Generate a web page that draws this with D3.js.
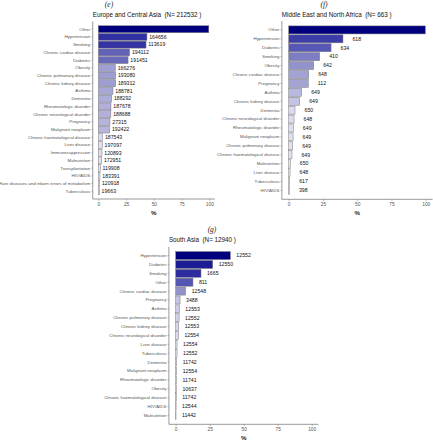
<!DOCTYPE html>
<html><head><meta charset="utf-8">
<script src="https://cdn.jsdelivr.net/npm/d3@7"></script>
<style>body{margin:0;background:#fff}svg{display:block}text{white-space:pre}</style>
</head><body>
<svg id="c" width="433" height="440"></svg>
<script>
// Panel (e) Europe and Central Asia
const eCats = ["Other","Hypertension","Smoking","Chronic cardiac disease","Diabetes","Obesity","Chronic pulmonary disease","Chronic kidney disease","Asthma","Dementia","Rheumatologic disorder","Chronic neurological disorder","Pregnancy","Malignant neoplasm","Chronic haematological disease","Liver disease","Immunosuppression","Malnutrition","Transplantation","HIV/AIDS","Rare diseases and inborn errors of metabolism","Tuberculosis"];
const ePct = [99.5,43.8,43.0,28.2,26.8,15.4,15.6,15.6,13.2,12.0,11.4,11.3,10.5,10.2,3.9,3.6,3.3,3.0,1.8,1.5,1.2,0.9];
const eN = [null,"164656","113619","194112","191451","166276","193080","189312","188781","188292","187678","188688","27315","192422","187543","197097","120893","172951","119908","183391","120918","19663"];
// Panel (f) Middle East and North Africa
const fCats = ["Other","Hypertension","Diabetes","Smoking","Obesity","Chronic cardiac disease","Pregnancy","Asthma","Chronic kidney disease","Dementia","Chronic neurological disorder","Rheumatologic disorder","Malignant neoplasm","Chronic pulmonary disease","Chronic haematological disease","Malnutrition","Liver disease","Tuberculosis","HIV/AIDS"];
const fPct = [99.7,39.6,30.9,22.6,18.2,14.6,14.3,9.5,8.0,4.6,3.9,3.4,3.2,2.9,2.4,1.2,1.0,0.7,0.5];
const fN = [null,"618","634","410","642","648","112","649","649","650","648","649","649","649","649","650","648","617","398"];
// Panel (g) South Asia
const gCats = ["Hypertension","Diabetes","Smoking","Other","Chronic cardiac disease","Pregnancy","Asthma","Chronic pulmonary disease","Chronic kidney disease","Chronic neurological disorder","Liver disease","Tuberculosis","Dementia","Malignant neoplasm","Rheumatologic disorder","Obesity","Chronic haematological disease","HIV/AIDS","Malnutrition"];
const gPct = [40.2,27.2,18.6,12.7,7.3,3.2,2.7,2.5,2.2,2.0,1.0,1.0,0.7,0.7,0.6,0.5,0.4,0.3,0.2];
const gN = ["12552","12550","1665","811","12548","3488","12553","12552","12553","12554","12554","12552","11742","12554","11741","10637","11742","12544","11442"];
const xTicks = [0,25,50,75,100];

const svg = d3.select("#c");
const sans = "'Liberation Sans', Arial, sans-serif";

// fill ramp: share of the panel maximum -> light lavender .. navy
const rampT = [0, 0.05, 0.1, 0.18, 0.3, 0.45, 0.7, 1];
const rampC = ["#ececf6","#d8d8ee","#b6b6de","#9494cc","#5a5ab6","#2e2ea2","#1a1a94","#00007f"];
const ramp = d3.scaleLinear().domain(rampT).range(rampC).interpolate(d3.interpolateRgb).clamp(true);

function panel(o){
  const x = d3.scaleLinear().domain([-5,105]).range([o.x0,o.x1]);
  const y = d3.scaleBand().domain(o.cats).range([o.y0,o.y1]).paddingInner(0.1).paddingOuter(0.55);
  const mx = d3.max(o.pct);
  const g = svg.append("g");
  g.append("text").attr("x",o.tagX).attr("y",o.tagY).attr("text-anchor","middle")
    .attr("font-family","'Liberation Serif', serif").attr("font-style","italic").attr("font-size",7.5).attr("fill","#222").text(o.tag);
  g.append("text").attr("x",o.x0).attr("y",o.titleY).attr("font-family",sans).attr("font-size",6.3).attr("fill","#111").text(o.title);
  g.selectAll("rect").data(o.cats).join("rect")
    .attr("x",x(0)).attr("y",d=>y(d)).attr("height",y.bandwidth())
    .attr("width",(d,i)=>Math.max(0.3,x(o.pct[i])-x(0)))
    .attr("fill",(d,i)=>ramp(o.pct[i]/mx)).attr("stroke","#7a7a7a").attr("stroke-width",0.5);
  g.selectAll("text.v").data(o.cats).join("text").attr("class","v")
    .attr("x",(d,i)=>x(o.pct[i])+o.gap).attr("y",d=>y(d)+y.bandwidth()/2)
    .attr("dy","0.35em").attr("font-family",sans).attr("font-size",5.2).attr("fill","#111")
    .text((d,i)=>o.n[i]===null?"":o.n[i]);
  const ya = g.append("g").attr("transform",`translate(${o.x0},0)`)
    .call(d3.axisLeft(y).tickSize(1.5).tickPadding(1));
  ya.select(".domain").attr("stroke","#555").attr("stroke-width",0.6).attr("d",`M0,${o.y0}V${o.y1}`);
  ya.selectAll(".tick line").attr("stroke","#666").attr("stroke-width",0.4);
  ya.selectAll(".tick text").attr("font-family",sans).attr("font-size",4.4).attr("fill","#555");
  const xa = g.append("g").attr("transform",`translate(0,${o.y1})`)
    .call(d3.axisBottom(x).tickValues(xTicks).tickSize(1.8).tickPadding(1.5));
  xa.select(".domain").attr("stroke","#555").attr("stroke-width",0.6).attr("d",`M${o.x0},0H${o.x1}`);
  xa.selectAll(".tick line").attr("stroke","#666").attr("stroke-width",0.4);
  xa.selectAll(".tick text").attr("font-family",sans).attr("font-size",4.8).attr("fill","#555");
  g.append("text").attr("x",(o.x0+o.x1)/2).attr("y",o.y1+15.5).attr("text-anchor","middle")
    .attr("font-family",sans).attr("font-size",6.2).attr("font-weight","bold").attr("fill","#222").text("%");
}

panel({cats:eCats,pct:ePct,n:eN,x0:92.75,x1:214.9,y0:21.5,y1:199,gap:2.3,
  tag:"(e)",tagX:109,tagY:7,title:"Europe and Central Asia  (N= 212532 )",titleY:17});
panel({cats:fCats,pct:fPct,n:fN,x0:281.85,x1:432.6,y0:21,y1:199.3,gap:9.5,
  tag:"(f)",tagX:324,tagY:7,title:"Middle East and North Africa  (N= 663 )",titleY:17});
panel({cats:gCats,pct:gPct,n:gN,x0:168.9,x1:318.5,y0:246.7,y1:424.3,gap:6,
  tag:"(g)",tagX:212,tagY:232,title:"South Asia  (N= 12940 )",titleY:242});
</script>
</body></html>
